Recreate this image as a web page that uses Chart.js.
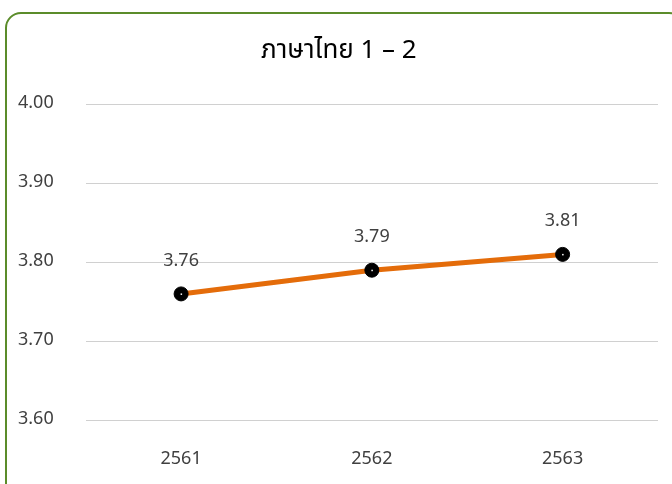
<!DOCTYPE html>
<html>
<head>
<meta charset="utf-8">
<script src="https://cdn.jsdelivr.net/npm/chart.js@4"></script>
<style>
  html, body { margin: 0; padding: 0; background: #fff; overflow: hidden; }
  #wrap { position: relative; width: 672px; height: 484px; }
  #frame {
    position: absolute; left: 5px; top: 12px; width: 680px; height: 490px;
    border: 2px solid #5b8c2a; border-radius: 16px; box-sizing: border-box;
  }
  canvas { position: absolute; left: 0; top: 0; }
</style>
</head>
<body>
<div id="wrap">
  <div id="frame"></div>
  <canvas id="chart" width="672" height="484"></canvas>
</div>
<script>
// ข้อมูลกราฟ
const years = ['2561', '2562', '2563'];
const scores = [3.76, 3.79, 3.81];
const yTicks = [3.6, 3.7, 3.8, 3.9, 4.0];

const fontFamily = "'Noto Sans Thai', 'Noto Sans', 'DejaVu Sans', sans-serif";

// วาดป้ายค่าเหนือจุด
const pointLabels = {
  id: 'pointLabels',
  afterDatasetsDraw(chart) {
    const ctx = chart.ctx;
    const meta = chart.getDatasetMeta(0);
    ctx.save();
    ctx.font = '18px ' + fontFamily;
    ctx.fillStyle = '#404040';
    ctx.textAlign = 'center';
    ctx.textBaseline = 'middle';
    meta.data.forEach(function(pt, i) {
      const p = pt.getProps(['x', 'y'], true);
      ctx.fillText(scores[i].toFixed(2), p.x, p.y - 32);
    });
    ctx.restore();
  }
};

// จุดขาวเล็กๆ กลางจุดดำ
const pointDots = {
  id: 'pointDots',
  afterDatasetsDraw(chart) {
    const ctx = chart.ctx;
    ctx.save();
    ctx.fillStyle = '#fff';
    chart.getDatasetMeta(0).data.forEach(function(pt) {
      const p = pt.getProps(['x', 'y'], true);
      ctx.fillRect(p.x - 0.5, p.y - 0.5, 1.5, 1.5);
    });
    ctx.restore();
  }
};

const ctx = document.getElementById('chart').getContext('2d');
new Chart(ctx, {
  type: 'line',
  data: {
    labels: years,
    datasets: [{
      data: scores,
      borderColor: '#e46c0a',
      borderWidth: 5,
      pointRadius: 7,
      pointHoverRadius: 7,
      pointBackgroundColor: '#000',
      pointBorderColor: '#000',
      pointBorderWidth: 1,
      tension: 0
    }]
  },
  plugins: [pointLabels, pointDots],
  options: {
    responsive: false,
    animation: false,
    layout: { padding: { left: -14, right: 14, top: 37, bottom: -8 } },
    plugins: {
      legend: { display: false },
      tooltip: { enabled: false },
      title: {
        display: true,
        text: '\u00a0\u00a0\u00a0\u00a0\u00a0ภาษาไทย 1 – 2',
        color: '#000',
        font: { family: fontFamily, size: 26, weight: 'normal' },
        padding: { top: 0, bottom: 36 }
      }
    },
    scales: {
      x: {
        offset: true,
        grid: { display: false },
        border: { display: false },
        ticks: { color: '#404040', font: { family: fontFamily, size: 18 }, padding: 21 }
      },
      y: {
        min: 3.6,
        max: 4.0,
        afterBuildTicks(axis) { axis.ticks = yTicks.map(v => ({ value: v })); },
        grid: { color: '#d0d0d0', lineWidth: 1, drawTicks: false },
        border: { display: false },
        ticks: {
          color: '#404040',
          font: { family: fontFamily, size: 18 },
          padding: 32,
          callback: v => Number(v).toFixed(2)
        }
      }
    }
  }
});
</script>
</body>
</html>
